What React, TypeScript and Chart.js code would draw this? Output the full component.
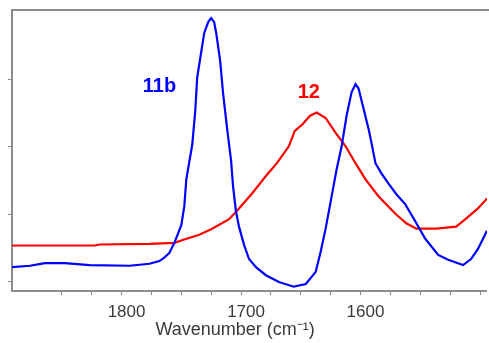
import React, { useEffect, useRef } from "react";
import { Chart, registerables } from "chart.js";

Chart.register(...registerables);

// Wavenumber (cm-1) and absorbance-like values
const blueX = [1891.7, 1876.7, 1864.2, 1847.5, 1826.7, 1793.3, 1776.7, 1768.3, 1764.2, 1760.0, 1755.8, 1750.0, 1747.5, 1745.8, 1740.8, 1738.3, 1736.7, 1730.8, 1727.5, 1725.0, 1722.5, 1720.8, 1717.5, 1715.0, 1711.7, 1708.3, 1706.7, 1704.2, 1701.7, 1697.5, 1693.3, 1687.5, 1679.2, 1668.3, 1655.8, 1645.8, 1637.5, 1633.3, 1629.2, 1625.0, 1620.0, 1615.8, 1611.7, 1607.5, 1604.2, 1601.7, 1597.5, 1593.3, 1590.8, 1587.5, 1582.5, 1576.7, 1570.0, 1562.5, 1554.2, 1545.8, 1535.0, 1526.7, 1514.2, 1507.5, 1501.7, 1495.8, 1494.2];
const blueY = [0.22, 0.24, 0.28, 0.28, 0.25, 0.24, 0.27, 0.31, 0.36, 0.43, 0.58, 0.84, 1.12, 1.52, 2.04, 2.54, 3.03, 3.69, 3.85, 3.91, 3.85, 3.69, 3.28, 2.79, 2.28, 1.79, 1.42, 1.04, 0.82, 0.55, 0.34, 0.22, 0.10, 0.00, -0.07, -0.03, 0.15, 0.45, 0.79, 1.19, 1.67, 2.01, 2.46, 2.81, 2.93, 2.87, 2.57, 2.27, 2.06, 1.76, 1.61, 1.46, 1.30, 1.15, 0.90, 0.64, 0.40, 0.33, 0.25, 0.34, 0.49, 0.70, 0.76];

const redX = [1891.7, 1822.5, 1818.3, 1776.7, 1755.8, 1747.5, 1735.0, 1725.0, 1710.0, 1701.7, 1690.8, 1679.2, 1670.0, 1660.0, 1655.0, 1648.3, 1642.5, 1636.7, 1629.2, 1620.8, 1612.5, 1604.2, 1595.8, 1585.0, 1570.8, 1561.7, 1553.3, 1536.7, 1520.0, 1511.7, 1501.7, 1495.0, 1494.2];
const redY = [0.54, 0.54, 0.555, 0.565, 0.58, 0.63, 0.70, 0.78, 0.93, 1.09, 1.31, 1.57, 1.76, 2.01, 2.24, 2.34, 2.46, 2.51, 2.43, 2.21, 2.01, 1.76, 1.52, 1.27, 1.01, 0.87, 0.79, 0.79, 0.82, 0.94, 1.09, 1.22, 1.24];

const xTickValues = [1850, 1825, 1800, 1775, 1750, 1725, 1700, 1675, 1650, 1625, 1600, 1575, 1550, 1525, 1500];
const xTickLabels = [1800, 1700, 1600];
const yTickValues = [0, 1, 2, 3];
const xTitle = "Wavenumber (cm⁻¹)";
const xTitleAt = 1705;

const seriesNames = ["11b", "12"];
const seriesColors = ["#0000ff", "#ff0000"];
// label anchors in data coordinates
const labelX = [1768.3, 1643.3];
const labelY = [2.9, 2.81];

const FONT = "'Liberation Sans', Arial, sans-serif";
const AXIS_COLOR = "#8c8c8c";
const TEXT_COLOR = "#3a3a3a";

export default function App() {
  const ref = useRef<HTMLCanvasElement | null>(null);

  useEffect(() => {
    if (!ref.current) return;
    const labelPlugin = {
      id: "extras",
      afterDatasetsDraw(chart: any) {
        const { ctx, chartArea, scales } = chart;
        ctx.save();
        // top frame line
        ctx.strokeStyle = AXIS_COLOR;
        ctx.lineWidth = 2;
        ctx.beginPath();
        ctx.moveTo(chartArea.left - 1, chartArea.top);
        ctx.lineTo(chartArea.right + 3, chartArea.top);
        ctx.stroke();
        ctx.font = `bold 20px ${FONT}`;
        ctx.textAlign = "center";
        ctx.textBaseline = "middle";
        seriesNames.forEach((name, i) => {
          ctx.fillStyle = seriesColors[i];
          ctx.fillText(name, scales.x.getPixelForValue(labelX[i]), scales.y.getPixelForValue(labelY[i]));
        });
        // axis title
        ctx.font = `18px ${FONT}`;
        ctx.fillStyle = TEXT_COLOR;
        ctx.fillText(xTitle, scales.x.getPixelForValue(xTitleAt), chartArea.bottom + 39);
        ctx.restore();
      },
    };

    const chart = new Chart(ref.current, {
      type: "line",
      data: {
        datasets: [
          {
            label: seriesNames[0],
            data: blueX.map((x, i) => ({ x, y: blueY[i] })),
            borderColor: seriesColors[0],
            borderWidth: 2.2,
            pointRadius: 0,
            tension: 0,
          },
          {
            label: seriesNames[1],
            data: redX.map((x, i) => ({ x, y: redY[i] })),
            borderColor: seriesColors[1],
            borderWidth: 2.2,
            pointRadius: 0,
            tension: 0,
          },
        ],
      },
      options: {
        animation: false,
        responsive: true,
        maintainAspectRatio: false,
        layout: { padding: { left: 8, top: 10, right: -3, bottom: 13 } },
        plugins: { legend: { display: false }, tooltip: { enabled: false } },
        scales: {
          x: {
            type: "linear",
            reverse: true,
            min: 1494.2,
            max: 1891.7,
            afterBuildTicks: (scale: any) => {
              scale.ticks = xTickValues.map((v) => ({ value: v }));
            },
            grid: { drawOnChartArea: false, drawTicks: true, tickLength: 4, color: AXIS_COLOR, lineWidth: 1 },
            border: { display: true, color: AXIS_COLOR, width: 2 },
            ticks: {
              autoSkip: false,
              maxRotation: 0,
              padding: 9,
              labelOffset: 5,
              color: TEXT_COLOR,
              font: { family: FONT, size: 17, lineHeight: 1 },
              callback: (v: any) => (xTickLabels.includes(Number(v)) ? String(v) : ""),
            },
          },
          y: {
            type: "linear",
            min: -0.134,
            max: 4.03,
            afterBuildTicks: (scale: any) => {
              scale.ticks = yTickValues.map((v) => ({ value: v }));
            },
            grid: { drawOnChartArea: false, drawTicks: true, tickLength: 4, color: AXIS_COLOR, lineWidth: 1 },
            border: { display: true, color: AXIS_COLOR, width: 2 },
            ticks: { display: false },
          },
        },
      },
      plugins: [labelPlugin],
    });
    return () => chart.destroy();
  }, []);

  return (
    <div style={{ position: "absolute", left: 0, top: 0, width: 489, height: 343, background: "#fff" }}>
      <canvas ref={ref} />
    </div>
  );
}
